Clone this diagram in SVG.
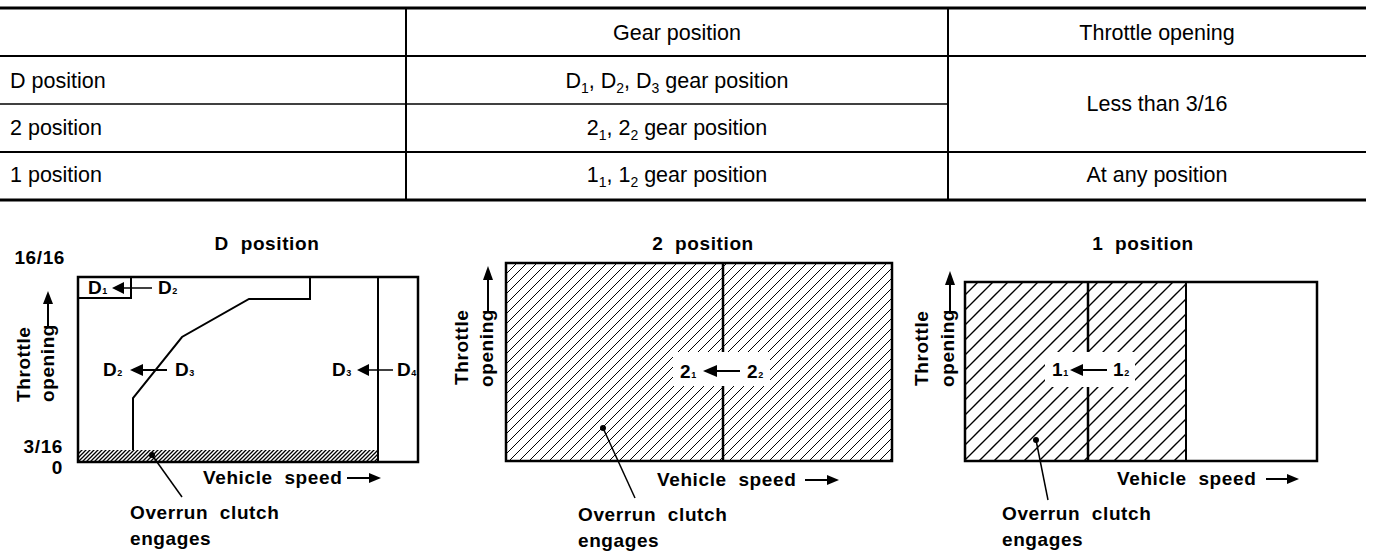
<svg xmlns="http://www.w3.org/2000/svg" width="1376" height="556" viewBox="0 0 1376 556">
<style>
.t{font-family:"Liberation Sans",Arial,sans-serif;font-size:21.5px;fill:#000}
.c{font-family:"Liberation Sans",Arial,sans-serif;font-size:19px;font-weight:bold;letter-spacing:0.6px;fill:#000;white-space:pre}
.s{font-size:14px}
.cs{font-size:9px}
.ln{stroke:#000;fill:none}
.box{stroke:#000;fill:none;stroke-width:2.5}
</style>
<defs>
<pattern id="hd" patternUnits="userSpaceOnUse" width="4" height="4">
<path d="M0,4 L4,0 M-1,1 L1,-1 M3,5 L5,3" stroke="#000" stroke-width="1.3"/>
</pattern>
<pattern id="hm" patternUnits="userSpaceOnUse" width="10" height="10">
<path d="M0,10 L10,0 M-1,1 L1,-1 M9,11 L11,9" stroke="#000" stroke-width="1"/>
</pattern>
<pattern id="hw" patternUnits="userSpaceOnUse" width="15" height="15">
<path d="M0,15 L15,0 M-1,1 L1,-1 M14,16 L16,14" stroke="#000" stroke-width="1.4"/>
</pattern>
</defs>
<rect width="1376" height="556" fill="#fff"/>

<g id="table">
<g class="ln">
<line x1="0" y1="8" x2="1366" y2="8" stroke-width="3"/>
<line x1="0" y1="56" x2="1366" y2="56" stroke-width="2"/>
<line x1="0" y1="104" x2="948" y2="104" stroke-width="1.5"/>
<line x1="0" y1="152" x2="1366" y2="152" stroke-width="2"/>
<line x1="0" y1="200" x2="1366" y2="200" stroke-width="3"/>
<line x1="406" y1="8" x2="406" y2="200" stroke-width="2"/>
<line x1="948" y1="8" x2="948" y2="200" stroke-width="2"/>
</g>
<text class="t" x="677" y="40" text-anchor="middle">Gear position</text>
<text class="t" x="1157" y="40" text-anchor="middle">Throttle opening</text>
<text class="t" x="10" y="88">D position</text>
<text class="t" x="677" y="88" text-anchor="middle">D<tspan class="s" dy="5">1</tspan><tspan dy="-5">, D</tspan><tspan class="s" dy="5">2</tspan><tspan dy="-5">, D</tspan><tspan class="s" dy="5">3</tspan><tspan dy="-5"> gear position</tspan></text>
<text class="t" x="10" y="135">2 position</text>
<text class="t" x="677" y="135" text-anchor="middle">2<tspan class="s" dy="5">1</tspan><tspan dy="-5">, 2</tspan><tspan class="s" dy="5">2</tspan><tspan dy="-5"> gear position</tspan></text>
<text class="t" x="1157" y="111" text-anchor="middle">Less than 3/16</text>
<text class="t" x="10" y="182">1 position</text>
<text class="t" x="677" y="182" text-anchor="middle">1<tspan class="s" dy="5">1</tspan><tspan dy="-5">, 1</tspan><tspan class="s" dy="5">2</tspan><tspan dy="-5"> gear position</tspan></text>
<text class="t" x="1157" y="182" text-anchor="middle">At any position</text>
</g>

<g id="chartD">
<rect x="79" y="450" width="299" height="12" fill="url(#hd)"/>
<rect x="78" y="277" width="340" height="185" class="box"/>
<line x1="378" y1="277" x2="378" y2="462" class="ln" stroke-width="2"/>
<path d="M78,298 H131 V277" class="ln" stroke-width="2"/>
<path d="M310,277 V299 H249 L182,337 L133,398 V450" class="ln" stroke-width="2"/>
<text class="c" x="267" y="250" text-anchor="middle">D  position</text>
<text class="c" x="65" y="264" text-anchor="end">16/16</text>
<text class="c" x="63" y="453" text-anchor="end">3/16</text>
<text class="c" x="63" y="474" text-anchor="end">0</text>
<text class="c" transform="translate(30,402) rotate(-90)">Throttle</text>
<text class="c" transform="translate(54,402) rotate(-90)">opening</text>
<line x1="48" y1="328" x2="48" y2="300" class="ln" stroke-width="2"/>
<path d="M48,291 L43,304 L53,304 Z"/>
<text class="c" x="88" y="294">D<tspan class="cs">1</tspan></text>
<path d="M112,288 L124,282 L124,294 Z"/>
<line x1="124" y1="288" x2="152" y2="288" class="ln" stroke-width="1.5"/>
<text class="c" x="158" y="294">D<tspan class="cs">2</tspan></text>
<text class="c" x="103" y="376">D<tspan class="cs">2</tspan></text>
<path d="M130,370 L143,364 L143,376 Z"/>
<line x1="143" y1="370" x2="167" y2="370" class="ln" stroke-width="2"/>
<text class="c" x="175" y="376">D<tspan class="cs">3</tspan></text>
<text class="c" x="332" y="376">D<tspan class="cs">3</tspan></text>
<path d="M357,370 L369,364 L369,376 Z"/>
<line x1="369" y1="370" x2="393" y2="370" class="ln" stroke-width="1.5"/>
<text class="c" x="397" y="376">D<tspan class="cs">4</tspan></text>
<text class="c" x="203" y="484">Vehicle  speed</text>
<line x1="347" y1="478" x2="372" y2="478" class="ln" stroke-width="2"/>
<path d="M381,478 L369,473 L369,483 Z"/>
<circle cx="152" cy="455" r="3"/>
<line x1="152" y1="455" x2="182" y2="497" class="ln" stroke-width="1.5"/>
<text class="c" x="130" y="519">Overrun  clutch</text>
<text class="c" x="130" y="545">engages</text>
</g>

<g id="chart2">
<rect x="506" y="263" width="386" height="198" fill="url(#hm)"/>
<rect x="673" y="352" width="97" height="34" fill="#fff"/>
<rect x="506" y="263" width="386" height="198" class="box"/>
<line x1="723" y1="263" x2="723" y2="352" class="ln" stroke-width="2.5"/>
<line x1="723" y1="386" x2="723" y2="461" class="ln" stroke-width="2.5"/>
<text class="c" x="703" y="250" text-anchor="middle">2  position</text>
<text class="c" transform="translate(468,385) rotate(-90)">Throttle</text>
<text class="c" transform="translate(493,387) rotate(-90)">opening</text>
<line x1="488" y1="313" x2="488" y2="278" class="ln" stroke-width="2"/>
<path d="M488,266 L483,280 L493,280 Z"/>
<text class="c" x="680" y="378">2<tspan class="cs">1</tspan></text>
<path d="M703,371 L717,365 L717,377 Z"/>
<line x1="717" y1="371" x2="740" y2="371" class="ln" stroke-width="2"/>
<text class="c" x="747" y="378">2<tspan class="cs">2</tspan></text>
<text class="c" x="657" y="486">Vehicle  speed</text>
<line x1="805" y1="480" x2="830" y2="480" class="ln" stroke-width="2"/>
<path d="M839,480 L827,475 L827,485 Z"/>
<circle cx="603" cy="428" r="3"/>
<line x1="603" y1="428" x2="635" y2="498" class="ln" stroke-width="1.5"/>
<text class="c" x="578" y="521">Overrun  clutch</text>
<text class="c" x="578" y="547">engages</text>
</g>

<g id="chart1">
<rect x="965" y="282" width="221" height="179" fill="url(#hw)"/>
<rect x="1045" y="352" width="90" height="35" fill="#fff"/>
<rect x="965" y="282" width="352" height="179" class="box"/>
<line x1="1088" y1="282" x2="1088" y2="352" class="ln" stroke-width="2.5"/>
<line x1="1088" y1="387" x2="1088" y2="461" class="ln" stroke-width="2.5"/>
<line x1="1186" y1="282" x2="1186" y2="461" class="ln" stroke-width="2"/>
<text class="c" x="1143" y="250" text-anchor="middle">1  position</text>
<text class="c" transform="translate(928,386) rotate(-90)">Throttle</text>
<text class="c" transform="translate(954,387) rotate(-90)">opening</text>
<line x1="950" y1="314" x2="950" y2="283" class="ln" stroke-width="2"/>
<path d="M950,271 L945,285 L955,285 Z"/>
<text class="c" x="1052" y="376">1<tspan class="cs">1</tspan></text>
<path d="M1070,370 L1083,364 L1083,376 Z"/>
<line x1="1083" y1="370" x2="1107" y2="370" class="ln" stroke-width="2"/>
<text class="c" x="1113" y="376">1<tspan class="cs">2</tspan></text>
<text class="c" x="1117" y="485">Vehicle  speed</text>
<line x1="1266" y1="479" x2="1290" y2="479" class="ln" stroke-width="2"/>
<path d="M1299,479 L1287,474 L1287,484 Z"/>
<circle cx="1036" cy="440" r="3"/>
<line x1="1036" y1="440" x2="1048" y2="500" class="ln" stroke-width="1.5"/>
<text class="c" x="1002" y="520">Overrun  clutch</text>
<text class="c" x="1002" y="546">engages</text>
</g>
</svg>
